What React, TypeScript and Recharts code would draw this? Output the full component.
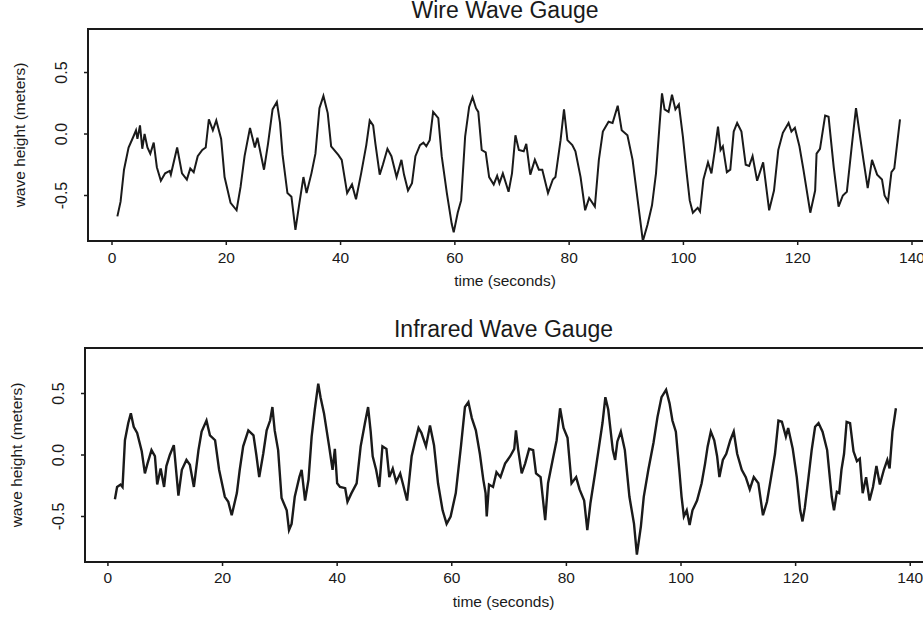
import React from 'react';
import { LineChart, Line, XAxis, YAxis, ReferenceArea } from 'recharts';

const FONT = '"Liberation Sans", Arial, Helvetica, sans-serif';
const INK = '#1a1a1a';

const wireTime = [
  0.94, 1.5, 2.1, 2.9, 3.75, 4.2, 4.45, 4.9, 5.3, 5.7, 6.2, 6.7, 7.3, 7.85, 8.55, 9.3, 10.1, 10.3, 11.4, 12.25,
  13.1, 13.7, 14.3, 15.0, 15.8, 16.4, 16.95, 17.65, 18.25, 19.1, 19.7, 20.75, 21.8, 22.5, 23.2, 24.15, 25.0, 25.45,
  26.6, 27.3, 28.1, 28.85, 29.4, 29.85, 30.7, 31.4, 32.1, 32.8, 33.5, 34.05, 34.9, 35.6, 36.3, 37.0, 37.75, 38.35,
  39.6, 40.2, 41.15, 42.0, 42.7, 43.6, 44.5, 45.1, 45.7, 46.1, 46.85, 47.4, 48.2, 48.9, 49.8, 50.65, 51.1, 51.8,
  52.5, 53.1, 53.9, 54.5, 55.0, 55.6, 56.2, 57.1, 57.7, 58.6, 59.45, 59.8, 60.5, 61.1, 61.8, 62.5, 63.1, 63.7, 64.1,
  64.7, 65.4, 66.0, 66.8, 67.4, 67.8, 68.4, 69.4, 70.0, 70.6, 71.2, 72.05, 72.5, 73.2, 74.0, 74.7, 75.3, 76.3,
  77.15, 77.6, 78.5, 79.1, 79.7, 80.55, 81.1, 82.0, 82.8, 83.5, 84.5, 85.2, 85.9, 86.9, 87.6, 88.5, 89.2, 90.2,
  91.1, 92.0, 92.9, 93.7, 94.5, 95.2, 95.8, 96.25, 96.7, 97.4, 98.0, 98.6, 99.2, 99.9, 100.5, 101.1, 101.65, 102.5,
  102.9, 103.5, 104.3, 104.9, 105.5, 106.05, 106.5, 106.9, 107.6, 108.2, 108.8, 109.4, 110.15, 110.9, 111.5, 112.1,
  112.9, 113.95, 115.0, 115.85, 116.6, 117.4, 118.4, 118.9, 119.5, 120.3, 121.0, 122.2, 123.05, 123.3, 123.9, 124.8,
  125.4, 126.3, 127.15, 127.9, 128.6, 129.5, 130.2, 131.0, 131.5, 132.25, 133.0, 133.9, 134.75, 135.2, 135.8, 136.4,
  136.9, 137.9,
];
const wireHeight = [
  -0.67, -0.55, -0.29, -0.11, -0.02, 0.03, -0.04, 0.07, -0.12, 0.0, -0.11, -0.16, -0.07, -0.27, -0.38, -0.32, -0.3, -0.33, -0.11, -0.32,
  -0.37, -0.28, -0.31, -0.18, -0.13, -0.11, 0.12, 0.03, 0.11, -0.04, -0.35, -0.56, -0.62, -0.43, -0.18, 0.05, -0.11, -0.03,
  -0.29, -0.08, 0.2, 0.26, 0.09, -0.17, -0.48, -0.51, -0.78, -0.56, -0.35, -0.48, -0.32, -0.16, 0.21, 0.31, 0.17, -0.1,
  -0.17, -0.21, -0.48, -0.41, -0.53, -0.32, -0.09, 0.11, 0.07, -0.08, -0.33, -0.25, -0.12, -0.18, -0.35, -0.21, -0.33, -0.46,
  -0.4, -0.18, -0.09, -0.07, -0.1, -0.05, 0.18, 0.13, -0.18, -0.48, -0.73, -0.8, -0.64, -0.54, -0.02, 0.22, 0.3, 0.21, 0.18,
  -0.13, -0.15, -0.35, -0.41, -0.34, -0.4, -0.32, -0.47, -0.32, -0.01, -0.13, -0.14, -0.08, -0.33, -0.21, -0.29, -0.29, -0.48,
  -0.37, -0.35, -0.05, 0.2, -0.05, -0.09, -0.14, -0.35, -0.62, -0.52, -0.59, -0.21, 0.02, 0.1, 0.09, 0.23, 0.03, -0.01,
  -0.21, -0.54, -0.87, -0.74, -0.58, -0.32, 0.06, 0.33, 0.2, 0.18, 0.32, 0.2, 0.24, -0.02, -0.29, -0.54, -0.64, -0.6,
  -0.63, -0.37, -0.23, -0.32, -0.13, 0.06, -0.13, -0.1, -0.31, -0.29, 0.02, 0.09, 0.02, -0.25, -0.26, -0.18,
  -0.38, -0.23, -0.62, -0.46, -0.13, 0.01, 0.09, 0.02, 0.05, -0.1, -0.29, -0.64, -0.46, -0.16, -0.12, 0.15,
  0.14, -0.27, -0.59, -0.5, -0.47, -0.08, 0.21, -0.05, -0.21, -0.44, -0.21, -0.33, -0.37, -0.5, -0.55, -0.31,
  -0.28, 0.12,
];

const irTime = [
  1.22, 1.6, 2.2, 2.55, 2.97, 3.55, 4.0, 4.5, 5.1, 5.9, 6.45, 6.9, 7.6, 8.2, 8.6, 9.2, 9.8, 10.2, 10.8, 11.5,
  12.3, 12.9, 13.7, 14.3, 15.0, 15.8, 16.35, 17.2, 17.8, 18.7, 19.4, 20.4, 21.0, 21.6, 22.5, 23.0, 23.6, 24.5,
  25.4, 25.9, 26.4, 27.1, 27.7, 28.3, 28.7, 29.1, 29.7, 30.3, 31.2, 31.6, 32.05, 32.6, 33.4, 33.8, 34.4, 35.0,
  35.55, 36.1, 36.7, 37.1, 37.7, 38.6, 39.2, 39.6, 40.0, 40.5, 41.4, 41.8, 42.5, 43.4, 44.1, 44.85, 45.4, 45.85,
  46.2, 46.8, 47.35, 47.9, 48.6, 49.1, 49.7, 50.3, 51.0, 51.5, 52.2, 53.0, 53.6, 54.2, 54.7, 55.5, 56.2, 56.9,
  57.6, 58.4, 59.1, 59.8, 60.7, 61.6, 62.3, 62.9, 63.5, 64.2, 64.9, 65.5, 65.9, 66.1, 66.5, 67.2, 67.8, 68.5,
  69.3, 70.2, 70.9, 71.2, 71.6, 72.2, 72.8, 73.5, 74.2, 74.7, 75.5, 76.3, 76.8, 77.6, 78.3, 78.9, 79.5, 80.2,
  80.9, 81.7, 82.3, 83.1, 83.65, 84.2, 85.0, 85.7, 86.3, 86.8, 87.3, 88.1, 88.5, 88.9, 89.5, 90.2, 91.0, 91.8,
  92.3, 93.0, 93.5, 94.3, 95.2, 95.9, 96.6, 97.4, 98.0, 98.5, 99.1, 99.7, 100.1, 100.5, 101.0, 101.5, 102.0,
  102.8, 103.6, 104.2, 104.65, 105.2, 105.8, 106.3, 106.7, 107.3, 107.9, 108.6, 109.2, 109.8, 110.6, 111.3,
  112.0, 112.7, 113.5, 114.3, 115.0, 115.65, 116.4, 117.0, 117.6, 118.3, 118.7, 119.5, 120.2, 120.8, 121.2,
  121.6, 122.2, 122.8, 123.4, 124.0, 124.7, 125.5, 126.3, 126.7, 127.2, 127.6, 128.0, 128.45, 128.9, 129.5,
  130.1, 130.7, 131.2, 131.7, 132.3, 132.9, 133.5, 134.1, 134.7, 135.4, 136.0, 136.4, 136.9, 137.5,
];
const irHeight = [
  -0.36, -0.26, -0.24, -0.26, 0.12, 0.26, 0.34, 0.23, 0.18, 0.03, -0.15, -0.07, 0.04, -0.01, -0.24, -0.11, -0.26, -0.09, 0.0, 0.08,
  -0.33, -0.12, -0.04, -0.08, -0.26, 0.04, 0.19, 0.28, 0.16, 0.12, -0.12, -0.34, -0.38, -0.49, -0.31, -0.12, 0.07, 0.2,
  0.16, 0.0, -0.18, 0.01, 0.2, 0.28, 0.39, 0.2, 0.04, -0.35, -0.45, -0.61, -0.56, -0.34, -0.18, -0.12, -0.37, -0.2,
  0.15, 0.37, 0.58, 0.47, 0.34, 0.07, -0.12, 0.05, -0.23, -0.26, -0.27, -0.38, -0.31, -0.23, 0.07, 0.26, 0.39, 0.19,
  -0.01, -0.12, -0.26, 0.07, 0.05, -0.18, -0.11, -0.22, -0.15, -0.24, -0.37, -0.01, 0.11, 0.22, 0.18, 0.07, 0.24, 0.08,
  -0.23, -0.45, -0.56, -0.5, -0.31, 0.07, 0.39, 0.43, 0.3, 0.2, 0.01, -0.2, -0.31, -0.5, -0.24, -0.26, -0.14, -0.18,
  -0.07, -0.01, 0.05, 0.2, 0.04, -0.15, -0.07, 0.05, 0.04, -0.15, -0.18, -0.53, -0.23, -0.04, 0.12, 0.38, 0.22, 0.14,
  -0.23, -0.18, -0.28, -0.37, -0.61, -0.39, -0.15, 0.07, 0.26, 0.47, 0.37, 0.04, -0.04, 0.11, 0.19, 0.04, -0.34, -0.56,
  -0.81, -0.58, -0.34, -0.12, 0.1, 0.31, 0.47, 0.53, 0.42, 0.28, 0.19, -0.12, -0.34, -0.5, -0.45, -0.57, -0.45,
  -0.37, -0.23, -0.07, 0.07, 0.19, 0.12, -0.01, -0.18, -0.04, 0.01, 0.12, 0.19, 0.01, -0.12, -0.18,
  -0.28, -0.18, -0.23, -0.49, -0.38, -0.2, 0.01, 0.28, 0.27, 0.15, 0.22, 0.05, -0.18, -0.45, -0.54,
  -0.43, -0.2, 0.04, 0.23, 0.26, 0.19, 0.04, -0.34, -0.45, -0.3, -0.31, -0.12, 0.01, 0.27, 0.26,
  0.03, -0.05, -0.03, -0.31, -0.18, -0.37, -0.26, -0.09, -0.24, -0.12, -0.04, -0.11, 0.19, 0.38,
];

const xTicks = [0, 20, 40, 60, 80, 100, 120, 140];
const yTicks = [-0.5, 0, 0.5];

const wireData = wireTime.map((t, i) => ({ t, h: wireHeight[i] }));
const irData = irTime.map((t, i) => ({ t, h: irHeight[i] }));

const YTick = (props: any) => {
  const { x, y, payload } = props;
  return (
    <text x={x} y={y} transform={`rotate(-90 ${x} ${y})`} textAnchor="middle" fontSize={16} fontFamily={FONT} fill={INK}>
      {Number(payload.value).toFixed(1)}
    </text>
  );
};

const xLabel = (props: any) => {
  const vb = props.viewBox || {};
  return (
    <text x={vb.x + vb.width / 2 - 2} y={vb.y + 45} textAnchor="middle" fontSize={15.5} fontFamily={FONT} fill={INK}>
      time (seconds)
    </text>
  );
};

const makeYLabel = (dx: number) => (props: any) => {
  const vb = props.viewBox || {};
  const x = vb.x + dx;
  const y = vb.y + vb.height / 2;
  return (
    <text x={x} y={y} transform={`rotate(-90 ${x} ${y})`} textAnchor="middle" fontSize={15.5} fontFamily={FONT} fill={INK}>
      wave height (meters)
    </text>
  );
};

type PanelProps = {
  title: string;
  data: { t: number; h: number }[];
  top: number;
  height: number;
  marginTop: number;
  axisWidth: number;
  axisHeight: number;
  xDomain: [number, number];
  yDomain: [number, number];
  tickMarginX: number;
  labelDx: number;
  titleTop: number;
  lineWidth: number;
};

const Panel = (p: PanelProps) => {
  const W = 940;
  const plotRight = 926;
  return (
    <div style={{ position: 'absolute', left: 0, top: p.top, width: W, height: p.height }}>
      <div
        style={{
          position: 'absolute',
          left: p.axisWidth,
          width: plotRight - p.axisWidth - 4,
          top: p.titleTop,
          textAlign: 'center',
          fontFamily: FONT,
          fontSize: 23,
          lineHeight: '23px',
          color: INK,
          whiteSpace: 'nowrap',
        }}
      >
        {p.title}
      </div>
      <LineChart
        width={W}
        height={p.height}
        data={p.data}
        margin={{ top: p.marginTop, right: W - plotRight, bottom: 0, left: 0 }}
      >
        <XAxis
          type="number"
          dataKey="t"
          domain={p.xDomain}
          ticks={xTicks}
          allowDataOverflow
          height={p.axisHeight}
          axisLine={false}
          tickSize={4}
          tickMargin={p.tickMarginX}
          tickLine={{ stroke: INK, strokeWidth: 1.5 }}
          tick={{ fontSize: 15.5, fontFamily: FONT, fill: INK }}
          label={xLabel}
        />
        <YAxis
          type="number"
          domain={p.yDomain}
          ticks={yTicks}
          allowDataOverflow
          width={p.axisWidth}
          axisLine={false}
          tickSize={4}
          tickMargin={17}
          tickLine={{ stroke: INK, strokeWidth: 1.5 }}
          tick={YTick}
          label={makeYLabel(p.labelDx)}
        />
        <ReferenceArea
          x1={p.xDomain[0]}
          x2={p.xDomain[1]}
          y1={p.yDomain[0]}
          y2={p.yDomain[1]}
          fill="none"
          stroke={INK}
          strokeWidth={2}
          ifOverflow="visible"
        />
        <Line
          type="linear"
          dataKey="h"
          stroke={INK}
          strokeWidth={p.lineWidth}
          dot={false}
          isAnimationActive={false}
        />
      </LineChart>
    </div>
  );
}

export default function App() {
  return (
    <div
      style={{
        position: 'absolute',
        left: 0,
        top: 0,
        width: 923,
        height: 619,
        overflow: 'hidden',
        background: '#ffffff',
      }}
    >
      <Panel
        title="Wire Wave Gauge"
        data={wireData}
        top={0}
        height={301}
        marginTop={29}
        axisWidth={88}
        axisHeight={60}
        xDomain={[-4.2, 142.45]}
        yDomain={[-0.87, 0.854]}
        tickMarginX={7}
        labelDx={25}
        titleTop={-1.5}
        lineWidth={2}
      />
      <Panel
        title="Infrared Wave Gauge"
        data={irData}
        top={320}
        height={299}
        marginTop={28}
        axisWidth={85}
        axisHeight={57}
        xDomain={[-4.0, 142.75]}
        yDomain={[-0.87, 0.87]}
        tickMarginX={6}
        labelDx={21.5}
        titleTop={-2.5}
        lineWidth={2.4}
      />
    </div>
  );
}
